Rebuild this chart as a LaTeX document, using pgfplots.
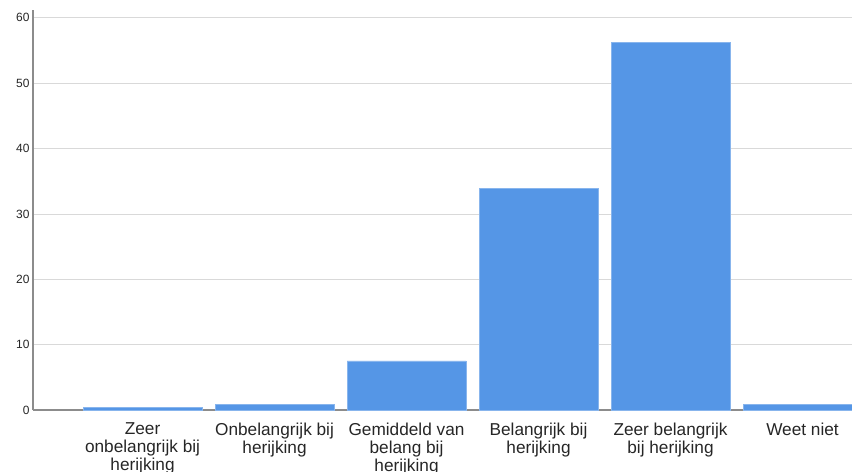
\documentclass[border=0pt]{standalone}
\usepackage{fontspec}
\setmainfont{Liberation Sans}
\usepackage{pgfplots}
\pgfplotsset{compat=1.18}
\definecolor{barBlue}{HTML}{5596E6}
\definecolor{gridGray}{HTML}{D9D9D9}
\definecolor{axisGray}{HTML}{8C8C8C}
\definecolor{txt}{HTML}{262626}

\begin{document}
\begin{tikzpicture}
\begin{axis}[
    scale only axis,
    width=819bp, height=400bp,
    xmin=-0.83, xmax=5.375,
    ymin=0, ymax=61.2,
    ybar, bar width=119bp,
    axis x line*=bottom, axis y line*=left,
    axis line style={axisGray, line width=1.2pt, -},
    xtick={0,1,2,3,4,5},
    xticklabels={
        {Zeer\\onbelangrijk bij\\herijking},
        {Onbelangrijk bij\\herijking},
        {Gemiddeld van\\belang bij\\herijking},
        {Belangrijk bij\\herijking},
        {Zeer belangrijk\\bij herijking},
        {Weet niet}},
    xticklabel style={align=center, font=\fontsize{17.3}{18.3}\selectfont, text=txt, yshift=-9bp},
    ytick={0,10,20,30,40,50,60},
    yticklabel style={font=\fontsize{12}{14}\selectfont, text=txt},
    /pgf/number format/assume math mode=true,
    major tick length=0pt,
    ymajorgrids=true,
    grid style={gridGray, line width=0.8pt},
]
\addplot[fill=barBlue, draw=barBlue!70!white, line width=0.4pt] coordinates {
    (0, 0.45)
    (1, 0.9)
    (2, 7.5)
    (3, 33.9)
    (4, 56.3)
    (5, 0.9)
};
\end{axis}
\pgfresetboundingbox
\useasboundingbox (-33bp,-62bp) rectangle (819bp,410bp);
\end{tikzpicture}
\end{document}
